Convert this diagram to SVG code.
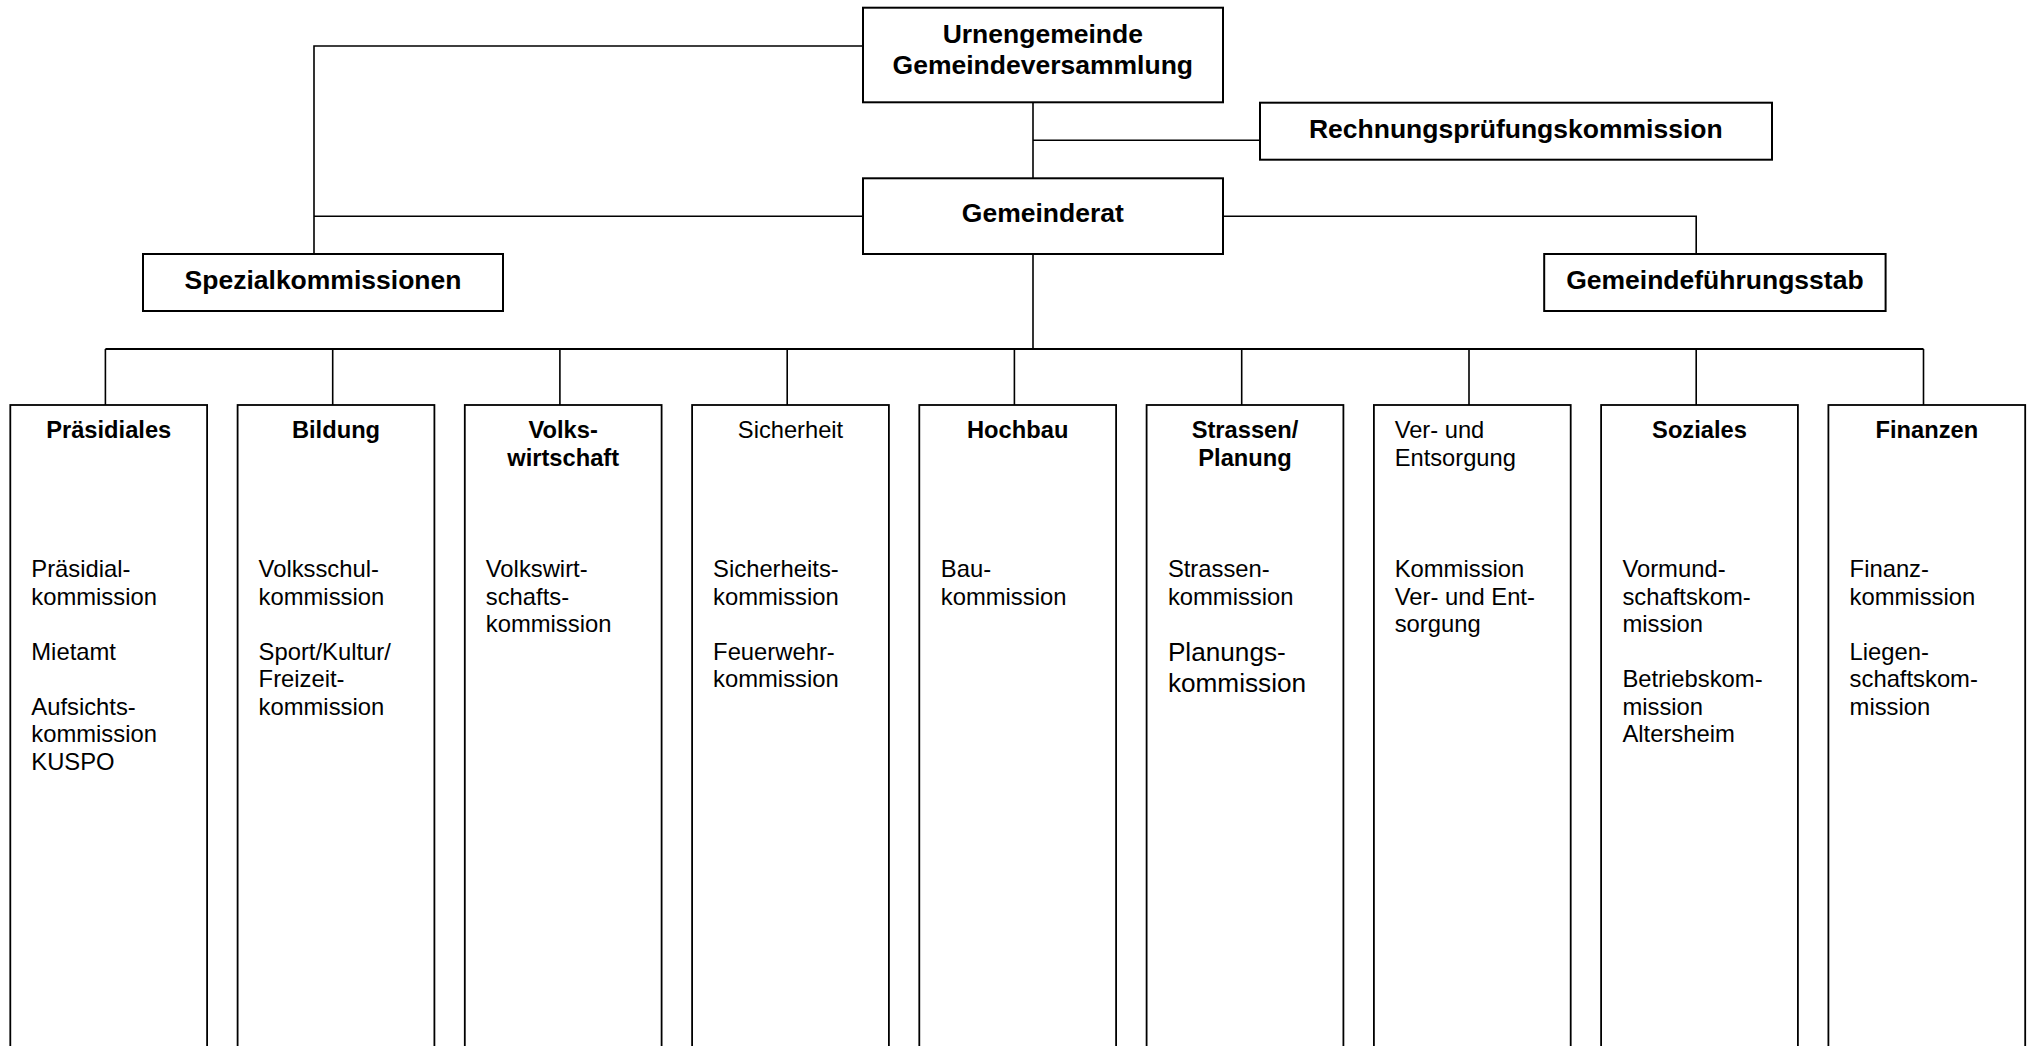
<svg xmlns="http://www.w3.org/2000/svg" width="2031" height="1046" viewBox="0 0 2031 1046">
<style>
.box{fill:#fff;stroke:#000;stroke-width:2}
.col{fill:#fff;stroke:#000;stroke-width:1.8}
.con{fill:none;stroke:#000;stroke-width:1.6}
.bus{fill:none;stroke:#000;stroke-width:2.2}
.tb{font-family:"Liberation Sans",Arial,sans-serif;font-weight:bold;font-size:26.5px;text-anchor:middle;fill:#000}
.th{font-family:"Liberation Sans",Arial,sans-serif;font-weight:bold;font-size:23.7px;text-anchor:middle;fill:#000}
.thr{font-family:"Liberation Sans",Arial,sans-serif;font-size:23.7px;fill:#000}
.t{font-family:"Liberation Sans",Arial,sans-serif;font-size:23.8px;fill:#000}
.tl{font-family:"Liberation Sans",Arial,sans-serif;font-size:26.2px;fill:#000}
</style>
<rect width="2031" height="1046" fill="#fff"/>
<g id="connectors">
<path class="con" d="M863,46 H314 V254"/>
<path class="con" d="M863,216.3 H314"/>
<path class="con" d="M1033,102.3 V196.7"/>
<path class="con" d="M1033,140.3 H1260"/>
<path class="con" d="M1033,254 V349"/>
<path class="con" d="M1223,216.3 H1696.2 V254"/>
<path class="bus" d="M105.4,349 H1923.5"/>
<path class="con" d="M105.4,349 V405 M332.7,349 V405 M559.9,349 V405 M787.2,349 V405 M1014.4,349 V405 M1241.7,349 V405 M1469,349 V405 M1696.2,349 V405 M1923.5,349 V405"/>
</g>
<g id="urnengemeinde">
<rect class="box" x="863" y="7.7" width="360" height="94.6"/>
<text class="tb" x="1042.8" y="42.7">Urnengemeinde</text>
<text class="tb" x="1042.8" y="74">Gemeindeversammlung</text>
</g>
<g id="rechnungspruefung">
<rect class="box" x="1260" y="102.7" width="512" height="57"/>
<text class="tb" x="1515.8" y="137.7">Rechnungsprüfungskommission</text>
</g>
<g id="gemeinderat">
<rect class="box" x="863" y="178.3" width="360" height="75.7"/>
<text class="tb" x="1042.8" y="222.3">Gemeinderat</text>
</g>
<g id="spezialkommissionen">
<rect class="box" x="143" y="254" width="360" height="57"/>
<text class="tb" x="323" y="289.3">Spezialkommissionen</text>
</g>
<g id="gemeindefuehrungsstab">
<rect class="box" x="1544.2" y="254" width="341.4" height="57"/>
<text class="tb" x="1714.9" y="289.3">Gemeindeführungsstab</text>
</g>
<g id="praesidiales">
<rect class="col" x="10.3" y="405" width="196.8" height="700"/>
<text class="th" x="108.7" y="437.7">Präsidiales</text>
<text class="t" x="31.3"><tspan x="31.3" y="577.3">Präsidial-</tspan><tspan x="31.3" y="604.8">kommission</tspan><tspan x="31.3" y="659.8">Mietamt</tspan><tspan x="31.3" y="714.8">Aufsichts-</tspan><tspan x="31.3" y="742.3">kommission</tspan><tspan x="31.3" y="769.8">KUSPO</tspan></text>
</g>
<g id="bildung">
<rect class="col" x="237.6" y="405" width="196.8" height="700"/>
<text class="th" x="336" y="437.7">Bildung</text>
<text class="t"><tspan x="258.6" y="577.3">Volksschul-</tspan><tspan x="258.6" y="604.8">kommission</tspan><tspan x="258.6" y="659.8">Sport/Kultur/</tspan><tspan x="258.6" y="687.3">Freizeit-</tspan><tspan x="258.6" y="714.8">kommission</tspan></text>
</g>
<g id="volkswirtschaft">
<rect class="col" x="464.8" y="405" width="196.8" height="700"/>
<text class="th"><tspan x="563.2" y="437.7">Volks-</tspan><tspan x="563.2" y="465.7">wirtschaft</tspan></text>
<text class="t"><tspan x="485.8" y="577.3">Volkswirt-</tspan><tspan x="485.8" y="604.8">schafts-</tspan><tspan x="485.8" y="632.3">kommission</tspan></text>
</g>
<g id="sicherheit">
<rect class="col" x="692.1" y="405" width="196.8" height="700"/>
<text class="thr" x="790.5" y="437.7" text-anchor="middle">Sicherheit</text>
<text class="t"><tspan x="713.1" y="577.3">Sicherheits-</tspan><tspan x="713.1" y="604.8">kommission</tspan><tspan x="713.1" y="659.8">Feuerwehr-</tspan><tspan x="713.1" y="687.3">kommission</tspan></text>
</g>
<g id="hochbau">
<rect class="col" x="919.3" y="405" width="196.8" height="700"/>
<text class="th" x="1017.7" y="437.7">Hochbau</text>
<text class="t"><tspan x="940.8" y="577.3">Bau-</tspan><tspan x="940.8" y="604.8">kommission</tspan></text>
</g>
<g id="strassen-planung">
<rect class="col" x="1146.6" y="405" width="196.8" height="700"/>
<text class="th"><tspan x="1245" y="437.7">Strassen/</tspan><tspan x="1245" y="465.7">Planung</tspan></text>
<text class="t"><tspan x="1167.9" y="577.3">Strassen-</tspan><tspan x="1167.9" y="604.8">kommission</tspan></text>
<text class="tl"><tspan x="1167.9" y="660.7">Planungs-</tspan><tspan x="1167.9" y="691.7">kommission</tspan></text>
</g>
<g id="ver-entsorgung">
<rect class="col" x="1373.9" y="405" width="196.8" height="700"/>
<text class="thr"><tspan x="1394.7" y="437.7">Ver- und</tspan><tspan x="1394.7" y="465.7">Entsorgung</tspan></text>
<text class="t"><tspan x="1394.7" y="577.3">Kommission</tspan><tspan x="1394.7" y="604.8">Ver- und Ent-</tspan><tspan x="1394.7" y="632.3">sorgung</tspan></text>
</g>
<g id="soziales">
<rect class="col" x="1601.1" y="405" width="196.8" height="700"/>
<text class="th" x="1699.5" y="437.7">Soziales</text>
<text class="t"><tspan x="1622.4" y="577.3">Vormund-</tspan><tspan x="1622.4" y="604.8">schaftskom-</tspan><tspan x="1622.4" y="632.3">mission</tspan><tspan x="1622.4" y="687.3">Betriebskom-</tspan><tspan x="1622.4" y="714.8">mission</tspan><tspan x="1622.4" y="742.3">Altersheim</tspan></text>
</g>
<g id="finanzen">
<rect class="col" x="1828.4" y="405" width="196.8" height="700"/>
<text class="th" x="1926.8" y="437.7">Finanzen</text>
<text class="t"><tspan x="1849.6" y="577.3">Finanz-</tspan><tspan x="1849.6" y="604.8">kommission</tspan><tspan x="1849.6" y="659.8">Liegen-</tspan><tspan x="1849.6" y="687.3">schaftskom-</tspan><tspan x="1849.6" y="714.8">mission</tspan></text>
</g>
</svg>
